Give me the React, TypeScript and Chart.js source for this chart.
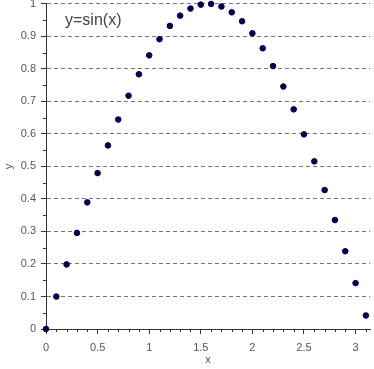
import React, { useEffect, useRef } from "react";
import { Chart, registerables } from "chart.js";

Chart.register(...registerables);

const xValues = [0, 0.1, 0.2, 0.3, 0.4, 0.5, 0.6, 0.7, 0.8, 0.9, 1.0, 1.1, 1.2, 1.3, 1.4, 1.5, 1.6, 1.7, 1.8, 1.9, 2.0, 2.1, 2.2, 2.3, 2.4, 2.5, 2.6, 2.7, 2.8, 2.9, 3.0, 3.1];
const yValues = [0, 0.0998, 0.1987, 0.2955, 0.3894, 0.4794, 0.5646, 0.6442, 0.7174, 0.7833, 0.8415, 0.8912, 0.932, 0.9636, 0.9854, 0.9975, 0.9996, 0.9917, 0.9738, 0.9463, 0.9093, 0.8632, 0.8085, 0.7457, 0.6755, 0.5985, 0.5155, 0.4274, 0.335, 0.2392, 0.1411, 0.0416];
const xMajorTicks = [0, 0.5, 1, 1.5, 2, 2.5, 3];
const xMinorTicks = [0.1, 0.2, 0.3, 0.4, 0.6, 0.7, 0.8, 0.9, 1.1, 1.2, 1.3, 1.4, 1.6, 1.7, 1.8, 1.9, 2.1, 2.2, 2.3, 2.4, 2.6, 2.7, 2.8, 2.9, 3.1];
const yMajorTicks = [0, 0.1, 0.2, 0.3, 0.4, 0.5, 0.6, 0.7, 0.8, 0.9, 1];
const yMinorTicks = [0.05, 0.15, 0.25, 0.35, 0.45, 0.55, 0.65, 0.75, 0.85, 0.95];
const seriesLabel = "y=sin(x)";
const xTitle = "x";
const yTitle = "y";
const xMax = 3.1416;

const FONT = "'Liberation Sans', Arial, sans-serif";
const AXIS_COLOR = "#333333";
const LABEL_COLOR = "#555555";

const minorTicksPlugin = {
  id: "minorTicks",
  afterDraw(chart: any) {
    const ctx = chart.ctx;
    const xs = chart.scales.x;
    const ys = chart.scales.y;
    ctx.save();
    ctx.strokeStyle = AXIS_COLOR;
    ctx.lineWidth = 1;
    ctx.beginPath();
    const axisY = ys.getPixelForValue(0);
    for (const v of xMinorTicks) {
      const px = Math.round(xs.getPixelForValue(v)) + 0.5;
      ctx.moveTo(px, axisY);
      ctx.lineTo(px, axisY + 3);
    }
    const axisX = xs.getPixelForValue(0);
    for (const v of yMinorTicks) {
      const py = Math.round(ys.getPixelForValue(v)) + 0.5;
      ctx.moveTo(axisX, py);
      ctx.lineTo(axisX - 3, py);
    }
    ctx.stroke();
    ctx.fillStyle = "#444444";
    ctx.font = `16px ${FONT}`;
    ctx.textBaseline = "alphabetic";
    ctx.fillText(seriesLabel, chart.chartArea.left + 19, chart.chartArea.top + 21);
    ctx.restore();
  },
};

export default function App() {
  const ref = useRef<HTMLCanvasElement | null>(null);
  useEffect(() => {
    if (!ref.current) return;
    const chart = new Chart(ref.current, {
      type: "scatter",
      data: {
        datasets: [
          {
            label: seriesLabel,
            data: xValues.map((x, i) => ({ x, y: yValues[i] })),
            backgroundColor: "#00004d",
            borderColor: "#00004d",
            pointRadius: 2.8,
            pointHoverRadius: 2.8,
            clip: false as any,
          },
        ],
      },
      options: {
        animation: false,
        responsive: true,
        maintainAspectRatio: false,
        layout: { padding: { top: 3, right: 1, left: 0, bottom: 0 } },
        plugins: {
          legend: { display: false },
          tooltip: { enabled: false },
        },
        scales: {
          x: {
            type: "linear",
            min: 0,
            max: xMax,
            afterBuildTicks: (scale: any) => {
              scale.ticks = xMajorTicks.map((v) => ({ value: v }));
            },
            afterFit: (scale: any) => {
              scale.height = 40;
              scale.paddingLeft = 0;
              scale.paddingRight = 0;
            },
            ticks: {
              color: LABEL_COLOR,
              font: { family: FONT, size: 11 },
              padding: 7,
              maxRotation: 0,
              callback: (v: any) => String(v),
            },
            grid: {
              drawOnChartArea: false,
              drawTicks: true,
              tickLength: 5,
              tickColor: AXIS_COLOR,
            },
            border: { display: true, color: AXIS_COLOR, width: 1 },
            title: {
              display: true,
              text: xTitle,
              color: LABEL_COLOR,
              font: { family: FONT, size: 11 },
              padding: { top: 0, bottom: 2 },
            },
          },
          y: {
            type: "linear",
            min: 0,
            max: 1,
            afterBuildTicks: (scale: any) => {
              scale.ticks = yMajorTicks.map((v) => ({ value: v }));
            },
            afterFit: (scale: any) => {
              scale.width = 46;
              scale.paddingTop = 0;
              scale.paddingBottom = 0;
            },
            ticks: {
              color: LABEL_COLOR,
              font: { family: FONT, size: 11 },
              padding: 5,
              callback: (v: any) => String(v),
            },
            grid: {
              drawOnChartArea: true,
              drawTicks: true,
              tickLength: 5,
              color: "#777777",
              tickColor: AXIS_COLOR,
              tickBorderDash: [],
            },
            border: { display: true, color: AXIS_COLOR, width: 1, dash: [4, 3] },
            title: {
              display: true,
              text: yTitle,
              color: LABEL_COLOR,
              font: { family: FONT, size: 11 },
              padding: { top: 2, bottom: 0 },
            },
          },
        },
      },
      plugins: [minorTicksPlugin],
    });
    return () => chart.destroy();
  }, []);
  return (
    <div style={{ position: "fixed", left: 0, top: 0, width: 374, height: 369 }}>
      <canvas ref={ref} />
    </div>
  );
}
